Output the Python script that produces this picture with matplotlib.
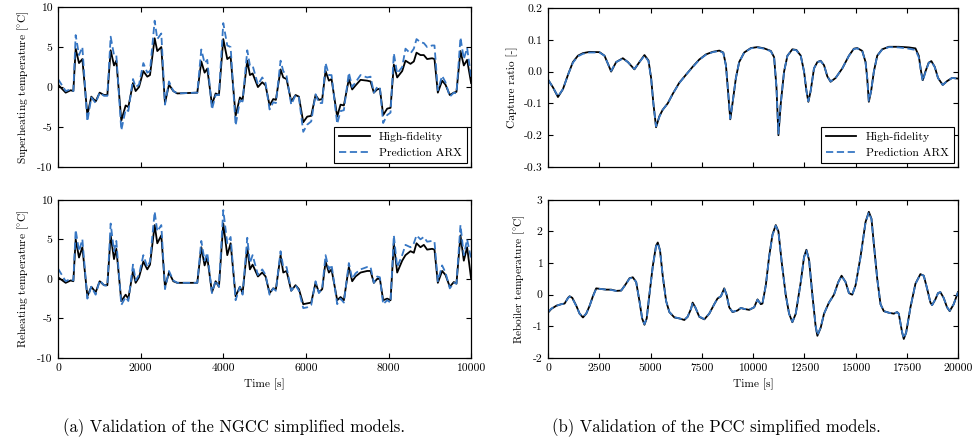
"""
Validation of the NGCC and PCC simplified models (high-fidelity vs ARX prediction).
"""

import matplotlib
matplotlib.use('Agg')
import matplotlib.pyplot as plt

plt.rcParams['font.family'] = ['cmr10', 'DejaVu Serif']
plt.rcParams['mathtext.fontset'] = 'cm'
plt.rcParams['axes.unicode_minus'] = False
plt.rcParams['axes.formatter.use_mathtext'] = False

# ---- NGCC panels (time in s) ----
ngcc_time = [0, 185, 306, 371, 427, 508, 589, 710, 806, 911, 1008, 1113, 1194, 1274, 1355,
             1411, 1532, 1637, 1702, 1815, 1879, 1960, 2065, 2161, 2226, 2339, 2403, 2500,
             2589, 2686, 2790, 2887, 3371, 3468, 3548, 3613, 3726, 3815, 3895, 4000, 4097,
             4178, 4299, 4403, 4468, 4581, 4645, 4710, 4839, 4944, 5024, 5121, 5210, 5274,
             5387, 5452, 5532, 5645, 5750, 5831, 5936, 6032, 6129, 6234, 6315, 6395, 6476,
             6557, 6621, 6758, 6839, 6919, 7040, 7121, 7202, 7323, 7484, 7565, 7645, 7726,
             7791, 7871, 7968, 8049, 8129, 8210, 8331, 8411, 8532, 8613, 8678, 8774, 8855,
             8935, 9056, 9113, 9194, 9298, 9379, 9484, 9581, 9645, 9742, 9823, 9903, 10000]

superheat_hf = [0.3, -0.7, -0.4, -0.5, 4.8, 3.0, 3.5, -3.5, -1.2, -1.8, -0.7, -1.0, -1.0, 4.6, 2.7,
                3.3, -4.2, -2.3, -2.5, 0.5, -0.5, 0.0, 2.0, 1.3, 1.5, 6.1, 4.5, 5.0,
                -2.0, 0.3, -0.5, -0.8, -0.7, 3.2, 1.8, 2.3, -2.2, -0.8, -1.0, 6.0, 3.5,
                3.8, -3.6, -1.3, -1.6, 3.3, 1.5, 1.7, 0.0, 0.6, 0.2, -2.3, -1.5, -1.6,
                2.2, 1.2, 1.0, -1.8, -1.0, -1.2, -4.4, -3.7, -3.6, -1.0, -1.6, -1.5, 2.0,
                0.8, 1.0, -3.7, -2.2, -2.3, 1.0, -0.3, 0.2, 0.9, 0.8, 0.7, -0.7, -0.3,
                -0.2, -3.5, -2.7, -2.6, 2.8, 1.2, 2.0, 3.3, 2.9, 3.2, 4.3, 4.0, 4.0,
                3.5, 3.6, 3.5, -0.7, 0.8, 0.3, -1.0, -0.7, -0.6, 4.5, 2.7, 3.4, 0.5]

superheat_arx = [1.0, -0.5, -0.3, -0.5, 6.5, 4.0, 5.0, -4.3, -1.3, -2.0, -0.7, -1.1, -1.1, 6.3, 4.0,
                 4.0, -5.4, -2.8, -3.0, 1.0, 0.0, 0.3, 3.0, 1.8, 2.0, 8.3, 6.0, 6.7,
                 -2.2, 0.7, -0.5, -0.8, -0.7, 4.7, 3.0, 3.4, -2.8, -1.0, -1.0, 8.0, 5.2,
                 5.0, -4.8, -1.7, -1.8, 4.6, 2.7, 2.7, 0.3, 1.2, 0.5, -2.8, -1.9, -2.0,
                 3.3, 2.0, 1.4, -2.2, -1.0, -1.3, -5.6, -4.7, -4.3, -0.9, -2.0, -2.0, 3.0,
                 1.5, 1.5, -4.6, -3.0, -2.9, 1.8, 0.0, 0.6, 1.5, 1.2, 1.3, -0.7, 0.0,
                 0.0, -4.5, -3.5, -3.2, 4.2, 1.7, 2.5, 4.8, 4.2, 4.8, 6.0, 5.6, 5.5,
                 5.0, 5.2, 5.2, -0.4, 1.4, 0.6, -1.2, -0.7, -0.8, 6.2, 3.5, 4.9, 1.2]

reheat_hf = [0.2, -0.5, -0.2, -0.3, 5.0, 2.7, 4.0, -2.2, -1.0, -1.7, -0.3, -0.8, -0.8, 5.5, 2.5,
             3.8, -2.8, -2.0, -2.5, 1.0, -0.5, 0.2, 2.2, 1.2, 1.8, 6.8, 4.5, 5.5,
             -1.0, 0.8, -0.3, -0.5, -0.5, 4.0, 1.7, 2.7, -1.7, -0.3, -1.0, 7.0, 3.0,
             4.5, -2.2, -1.0, -1.8, 4.0, 1.2, 1.8, 0.3, 0.8, 0.3, -1.8, -1.2, -1.3,
             3.0, 0.8, 1.0, -1.5, -0.8, -1.3, -3.2, -3.1, -3.0, -0.5, -1.7, -1.3, 2.2,
             0.8, 1.2, -2.7, -2.3, -2.7, 1.5, -0.3, 0.3, 0.8, 1.0, 1.0, -0.5, 0.0,
             0.0, -2.7, -2.5, -2.7, 4.5, 0.8, 2.3, 3.0, 3.5, 3.3, 4.5, 4.0, 4.3,
             3.7, 3.8, 3.7, -0.5, 1.0, 0.5, -1.0, -0.4, -0.6, 5.5, 2.3, 4.0, 0.0]

reheat_arx = [1.3, -0.3, 0.0, -0.2, 6.2, 3.5, 5.0, -2.5, -1.0, -2.0, -0.2, -0.8, -0.9, 7.0, 3.5,
              4.8, -3.3, -2.3, -2.8, 1.8, -0.2, 0.5, 3.0, 1.5, 2.2, 8.5, 6.0, 6.8,
              -1.3, 1.0, -0.2, -0.5, -0.5, 4.8, 2.3, 3.3, -1.8, -0.2, -1.0, 8.7, 4.5,
              5.3, -2.7, -1.0, -2.0, 5.2, 2.0, 3.0, 0.5, 1.2, 0.5, -2.0, -1.2, -1.5,
              3.5, 1.5, 1.5, -1.5, -0.8, -1.5, -3.7, -3.6, -3.3, -0.3, -1.8, -1.2, 3.0,
              1.2, 1.8, -3.2, -2.5, -3.0, 2.0, 0.0, 0.7, 1.2, 1.5, 1.5, -0.5, 0.3,
              0.2, -3.2, -2.7, -3.0, 5.5, 1.5, 3.0, 4.3, 4.0, 4.5, 5.5, 5.0, 5.3,
              4.7, 4.8, 4.7, -0.3, 1.7, 0.8, -1.2, -0.5, -0.6, 6.8, 3.0, 5.0, 2.5]

# ---- PCC panels (time in s) ----
capture_time = [0, 245, 485, 730, 975, 1215, 1460, 1705, 2030, 2515, 2755, 2920, 3080, 3325,
                3650, 3895, 4215, 4460, 4705, 4900, 5030, 5140, 5270, 5435, 5595, 5840, 6085,
                6405, 6730, 7055, 7380, 7705, 8030, 8355, 8550, 8680, 8805, 8890, 9000, 9165,
                9325, 9570, 9895, 10220, 10545, 10870, 11030, 11145, 11240, 11355, 11515,
                11680, 11920, 12115, 12330, 12490, 12605, 12700, 12815, 12975, 13140, 13300,
                13465, 13625, 13785, 14030, 14355, 14680, 14920, 15085, 15330, 15490, 15570,
                15650, 15765, 15895, 16060, 16300, 16625, 17110, 17600, 17925, 18085, 18200,
                18280, 18410, 18570, 18700, 18865, 19025, 19255, 19465, 19710, 20000]

capture_hf = [-0.025, -0.05, -0.08, -0.055, -0.01, 0.03, 0.05, 0.058, 0.062, 0.061, 0.05, 0.025,
              0.0, 0.03, 0.042, 0.03, 0.007, 0.03, 0.052, 0.035, -0.02, -0.1, -0.175, -0.14,
              -0.12, -0.1, -0.07, -0.035, -0.01, 0.015, 0.038, 0.054, 0.062, 0.066, 0.06,
              0.02, -0.08, -0.15, -0.1, -0.02, 0.03, 0.06, 0.074, 0.077, 0.073, 0.065, 0.045,
              -0.05, -0.2, -0.1, 0.0, 0.05, 0.07, 0.068, 0.05, 0.0, -0.06, -0.095, -0.06,
              0.01, 0.03, 0.034, 0.02, -0.015, -0.032, -0.02, 0.01, 0.05, 0.072, 0.074,
              0.065, 0.03, -0.02, -0.095, -0.06, 0.0, 0.05, 0.07, 0.078, 0.078, 0.076,
              0.073, 0.05, 0.0, -0.027, 0.0, 0.028, 0.033, 0.015, -0.02, -0.042, -0.03,
              -0.02, -0.022]

capture_arx = [-0.025, -0.05, -0.078, -0.055, -0.01, 0.028, 0.048, 0.056, 0.060, 0.060, 0.05, 0.025,
               0.002, 0.03, 0.041, 0.03, 0.008, 0.03, 0.05, 0.033, -0.022, -0.1, -0.172, -0.142,
               -0.12, -0.1, -0.07, -0.036, -0.01, 0.014, 0.037, 0.053, 0.061, 0.065, 0.059,
               0.018, -0.08, -0.148, -0.1, -0.02, 0.03, 0.06, 0.073, 0.076, 0.072, 0.064, 0.044,
               -0.05, -0.195, -0.1, 0.0, 0.05, 0.069, 0.067, 0.049, 0.0, -0.06, -0.093, -0.06,
               0.01, 0.03, 0.033, 0.02, -0.015, -0.031, -0.02, 0.01, 0.05, 0.071, 0.073,
               0.064, 0.03, -0.02, -0.092, -0.06, 0.0, 0.05, 0.069, 0.077, 0.076, 0.072,
               0.068, 0.045, -0.002, -0.03, -0.002, 0.027, 0.032, 0.014, -0.02, -0.042, -0.03,
               -0.02, -0.022]

reboiler_time = [0, 160, 405, 650, 810, 975, 1055, 1185, 1380, 1540, 1705, 1865, 2030, 2190,
                 2350, 2595, 2840, 3080, 3325, 3570, 3810, 3975, 4135, 4300, 4460, 4590, 4705,
                 4815, 4945, 5110, 5270, 5355, 5465, 5595, 5760, 5920, 6165, 6405, 6650, 6810,
                 6975, 7055, 7185, 7380, 7625, 7865, 8110, 8270, 8435, 8595, 8710, 8840, 9000,
                 9245, 9405, 9570, 9815, 10055, 10220, 10380, 10460, 10625, 10785, 10950,
                 11110, 11240, 11405, 11595, 11760, 11920, 12085, 12330, 12490, 12605, 12735,
                 12895, 13055, 13140, 13300, 13465, 13705, 13950, 14160, 14320, 14515, 14680,
                 14840, 15005, 15245, 15490, 15650, 15780, 15895, 16060, 16220, 16380, 16625,
                 16870, 17030, 17110, 17275, 17355, 17470, 17680, 17925, 18165, 18330, 18490,
                 18655, 18735, 18895, 19025, 19140, 19300, 19465, 19595, 19790, 20000]

reboiler_hf = [-0.57, -0.45, -0.35, -0.3, -0.28, -0.1, -0.05, -0.1, -0.35, -0.6, -0.72, -0.6,
               -0.35, -0.05, 0.2, 0.18, 0.16, 0.16, 0.12, 0.13, 0.35, 0.52, 0.55, 0.4, -0.2,
               -0.75, -0.95, -0.75, 0.0, 0.9, 1.55, 1.65, 1.4, 0.6, -0.2, -0.55, -0.72, -0.75,
               -0.8, -0.7, -0.45, -0.25, -0.4, -0.7, -0.78, -0.6, -0.3, -0.12, -0.05, 0.2,
               0.0, -0.4, -0.55, -0.5, -0.42, -0.45, -0.48, -0.4, -0.15, -0.3, -0.28, 0.3,
               1.2, 1.9, 2.2, 2.0, 1.0, 0.0, -0.6, -0.87, -0.6, 0.4, 1.2, 1.42, 1.1, 0.0,
               -1.0, -1.3, -1.05, -0.6, -0.25, 0.0, 0.4, 0.6, 0.4, 0.05, 0.0, 0.3, 1.2, 2.3,
               2.62, 2.4, 1.6, 0.5, -0.3, -0.52, -0.57, -0.6, -0.55, -0.6, -1.2, -1.4, -1.2,
               -0.4, 0.35, 0.65, 0.6, 0.2, -0.25, -0.33, -0.15, 0.05, 0.08, -0.1, -0.4,
               -0.52, -0.3, 0.08]

reboiler_arx = [-0.55, -0.44, -0.35, -0.3, -0.28, -0.11, -0.06, -0.11, -0.36, -0.6, -0.7, -0.6,
                -0.35, -0.06, 0.19, 0.18, 0.16, 0.15, 0.12, 0.13, 0.34, 0.51, 0.54, 0.4, -0.2,
                -0.73, -0.93, -0.74, 0.0, 0.88, 1.53, 1.63, 1.39, 0.6, -0.2, -0.55, -0.71, -0.75,
                -0.79, -0.7, -0.45, -0.26, -0.4, -0.69, -0.77, -0.6, -0.3, -0.12, -0.05, 0.19,
                0.0, -0.4, -0.54, -0.5, -0.42, -0.45, -0.47, -0.4, -0.16, -0.3, -0.28, 0.3,
                1.18, 1.88, 2.18, 1.98, 1.0, 0.0, -0.6, -0.86, -0.6, 0.39, 1.18, 1.4, 1.1, 0.0,
                -0.98, -1.28, -1.04, -0.6, -0.25, 0.0, 0.39, 0.59, 0.4, 0.05, 0.0, 0.3, 1.18, 2.28,
                2.6, 2.38, 1.6, 0.5, -0.3, -0.52, -0.57, -0.6, -0.55, -0.6, -1.18, -1.38, -1.2,
                -0.4, 0.34, 0.64, 0.6, 0.2, -0.25, -0.33, -0.15, 0.05, 0.08, -0.1, -0.39,
                -0.51, -0.3, 0.08]

HF_COLOR = 'black'
ARX_COLOR = '#3777c4'
TICK_SIZE = 8.4
LABEL_SIZE = 8.2


def style_axes(ax):
    ax.tick_params(direction='in', top=True, right=True, length=3.5, width=0.8,
                   labelsize=TICK_SIZE, pad=4)
    for s in ax.spines.values():
        s.set_linewidth(0.9)


def draw_pair(ax, t, hf, arx):
    ax.plot(t, hf, color=HF_COLOR, lw=1.3, label='High-fidelity')
    ax.plot(t, arx, color=ARX_COLOR, lw=1.3, dashes=(4, 2), label='Prediction ARX')


def add_legend(ax):
    leg = ax.legend(loc='lower right', fontsize=8.4, fancybox=False, framealpha=1,
                    edgecolor='black', borderaxespad=0.35, handlelength=2.6,
                    borderpad=0.45, labelspacing=0.45)
    leg.get_frame().set_linewidth(0.8)


def main():
    fig = plt.figure(figsize=(9.72, 4.43), dpi=100)

    ax1 = fig.add_axes([0.0597, 0.623, 0.425, 0.361])
    ax2 = fig.add_axes([0.0597, 0.192, 0.425, 0.357])
    ax3 = fig.add_axes([0.5638, 0.623, 0.4218, 0.359])
    ax4 = fig.add_axes([0.5638, 0.192, 0.4218, 0.357])

    draw_pair(ax1, ngcc_time, superheat_hf, superheat_arx)
    ax1.set_xlim(0, 10000)
    ax1.set_ylim(-10, 10)
    ax1.set_yticks([-10, -5, 0, 5, 10])
    ax1.set_xticks(range(0, 10001, 2000))
    ax1.set_xticklabels([])
    ax1.set_ylabel(r'Superheating temperature [$^{\circ}$C]', fontsize=LABEL_SIZE)
    add_legend(ax1)

    draw_pair(ax2, ngcc_time, reheat_hf, reheat_arx)
    ax2.set_xlim(0, 10000)
    ax2.set_ylim(-10, 10)
    ax2.set_yticks([-10, -5, 0, 5, 10])
    ax2.set_xticks(range(0, 10001, 2000))
    ax2.set_xlabel('Time [s]', fontsize=LABEL_SIZE)
    ax2.set_ylabel(r'Reheating temperature [$^{\circ}$C]', fontsize=LABEL_SIZE)

    draw_pair(ax3, capture_time, capture_hf, capture_arx)
    ax3.set_xlim(0, 20000)
    ax3.set_ylim(-0.3, 0.2)
    ax3.set_yticks([-0.3, -0.2, -0.1, 0.0, 0.1, 0.2])
    ax3.set_yticklabels(['-0.3', '-0.2', '-0.1', '0.0', '0.1', '0.2'])
    ax3.set_xticks(range(0, 20001, 2500))
    ax3.set_xticklabels([])
    ax3.set_ylabel('Capture ratio [-]', fontsize=LABEL_SIZE)
    add_legend(ax3)

    draw_pair(ax4, reboiler_time, reboiler_hf, reboiler_arx)
    ax4.set_xlim(0, 20000)
    ax4.set_ylim(-2, 3)
    ax4.set_yticks([-2, -1, 0, 1, 2, 3])
    ax4.set_xticks(range(0, 20001, 2500))
    ax4.set_xlabel('Time [s]', fontsize=LABEL_SIZE)
    ax4.set_ylabel(r'Reboiler temperature [$^{\circ}$C]', fontsize=LABEL_SIZE)

    for ax in (ax1, ax2, ax3, ax4):
        style_axes(ax)

    fig.text(0.241, 0.013, '(a) Validation of the NGCC simplified models.',
             ha='center', va='bottom', fontsize=12)
    fig.text(0.737, 0.013, '(b) Validation of the PCC simplified models.',
             ha='center', va='bottom', fontsize=12)

    fig.savefig('out.png', dpi=100)
    plt.close(fig)


if __name__ == '__main__':
    main()
